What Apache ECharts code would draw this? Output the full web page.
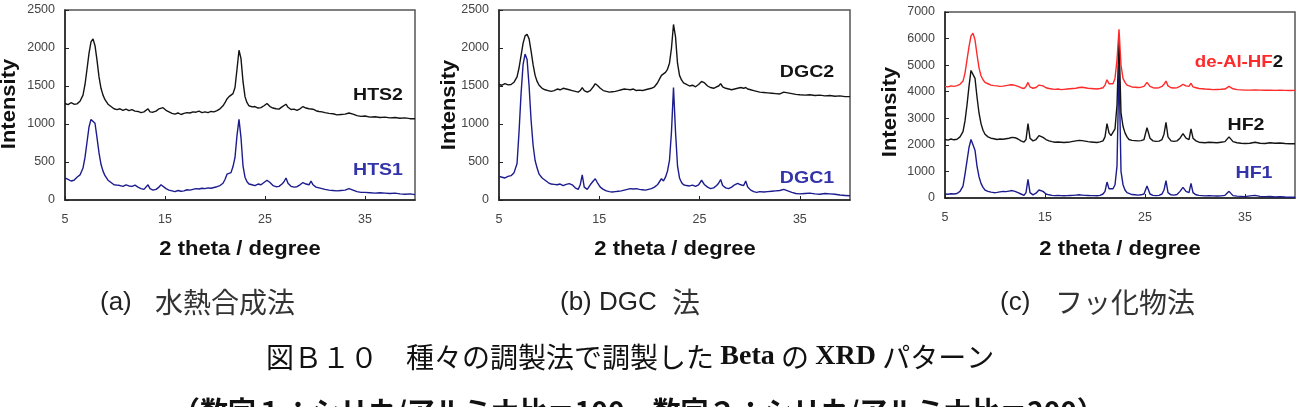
<!DOCTYPE html>
<html><head><meta charset="utf-8">
<script src="https://cdn.jsdelivr.net/npm/echarts@6/dist/echarts.min.js"></script>
<style>html,body{margin:0;padding:0;background:#fff;}#c{width:1299px;height:407px;}</style>
</head><body><div id="c"></div>
<script>
// Shared 2-theta sample positions (degrees)
const twoTheta = [
 5.0,5.3,5.6,5.9,6.2,6.5,6.8,
 7.0,7.2,7.4,7.6,7.8,8.0,8.2,8.4,8.6,8.8,9.0,
 9.3,9.6,9.9,10.2,10.5,10.8,11.1,11.4,11.7,12.0,12.3,12.6,12.9,
 13.1,13.3,13.5,13.8,14.1,14.4,14.6,14.8,
 15.1,15.4,15.7,16.0,16.3,16.6,16.9,17.2,17.5,17.8,18.1,18.4,18.7,19.0,19.3,19.6,19.9,20.2,20.5,20.8,
 21.0,21.2,21.4,21.6,21.8,22.0,22.2,22.4,22.6,22.8,23.0,23.2,23.4,
 23.7,24.0,24.3,24.6,24.9,25.2,25.5,25.8,26.1,26.4,26.7,
 26.9,27.1,27.3,27.6,27.9,28.2,28.5,28.8,29.1,29.4,29.6,29.8,
 30.1,30.4,30.7,31.0,31.4,31.8,32.2,32.6,33.0,33.4,33.8,34.2,34.6,35.0,
 35.5,36.0,36.5,37.0,37.5,38.0,38.5,39.0,39.5,40.0
];
// (a) hydrothermal
const HTS2 = [
 1270,1255,1280,1260,1265,1300,1380,
 1520,1720,1930,2080,2120,2030,1840,1620,1470,1380,1320,
 1260,1230,1200,1190,1200,1180,1195,1175,1190,1170,1165,1150,1160,
 1170,1200,1160,1155,1170,1200,1220,1215,
 1180,1160,1140,1130,1145,1125,1140,1150,1145,1160,1155,1170,1150,1160,1150,1165,1160,1175,1200,1240,
 1280,1330,1360,1340,1400,1480,1720,1970,1860,1560,1360,1280,1240,
 1225,1230,1210,1215,1240,1270,1230,1210,1200,1195,1225,
 1240,1260,1220,1190,1195,1180,1200,1230,1210,1200,1220,1195,
 1175,1165,1160,1150,1140,1135,1120,1125,1130,1145,1130,1110,1100,1105,
 1090,1095,1085,1090,1080,1085,1075,1080,1070,1070
];
const HTS1 = [
 290,270,250,260,300,330,420,
 560,760,960,1060,1070,1010,820,620,470,380,320,
 260,230,200,195,190,180,200,185,180,195,170,150,140,
 160,200,150,130,140,170,200,190,
 150,130,120,110,125,115,120,135,130,140,150,145,155,150,160,155,165,175,190,220,
 270,340,320,360,440,560,850,1060,820,450,300,240,210,
 200,190,210,200,230,260,230,190,175,180,210,
 240,290,220,180,170,175,200,230,210,200,250,200,
 170,160,150,140,130,125,120,125,130,150,130,110,100,100,
 95,90,95,90,85,90,80,75,80,70
];
// (b) DGC
const DGC2 = [
 1520,1510,1530,1515,1520,1550,1620,
 1740,1900,2060,2160,2180,2120,1960,1780,1640,1560,1510,
 1470,1450,1440,1430,1440,1460,1450,1470,1460,1450,1440,1430,1420,
 1440,1480,1440,1420,1440,1490,1530,1510,
 1470,1440,1430,1420,1425,1430,1440,1450,1460,1455,1450,1460,1440,1445,1440,1450,1460,1470,1490,1540,
 1590,1640,1660,1680,1720,1800,2000,2310,2150,1800,1640,1580,1540,
 1520,1500,1510,1490,1520,1560,1540,1500,1480,1470,1490,
 1500,1530,1490,1470,1460,1450,1460,1470,1480,1470,1480,1460,
 1450,1440,1430,1420,1415,1410,1405,1400,1395,1420,1410,1400,1390,1385,
 1380,1385,1375,1380,1370,1375,1365,1370,1360,1360
];
const DGC1 = [
 310,300,290,310,320,360,480,
 900,1400,1780,1920,1850,1500,1050,720,520,420,340,
 290,260,230,210,205,200,210,190,205,215,200,160,140,
 200,330,170,140,200,250,280,230,
 170,140,120,110,105,110,115,120,130,140,150,145,150,140,135,130,140,150,170,200,
 240,280,250,300,380,520,900,1480,900,450,290,230,200,
 190,185,195,180,200,260,200,170,150,160,190,
 220,270,190,160,150,170,200,220,200,190,250,170,
 130,110,100,110,105,110,115,120,125,140,120,100,85,80,
 85,90,80,75,85,80,75,65,60,55
];
// (c) fluoride
const deAlHF2 = [
 4200,4180,4220,4200,4230,4280,4400,
 4700,5200,5700,6100,6200,5950,5400,4900,4600,4450,4350,
 4300,4250,4230,4220,4200,4210,4230,4250,4260,4240,4200,4150,4120,
 4200,4350,4180,4130,4160,4250,4300,4220,
 4150,4120,4100,4090,4100,4080,4090,4100,4110,4120,4130,4160,4170,4150,4130,4120,4110,4100,4120,4150,
 4250,4450,4300,4250,4300,4500,5200,6350,5000,4500,4350,4250,4200,
 4180,4170,4160,4170,4200,4350,4200,4150,4140,4150,4200,
 4280,4400,4220,4150,4140,4150,4200,4280,4220,4200,4320,4180,
 4150,4120,4110,4100,4090,4080,4085,4090,4100,4200,4110,4080,4070,4060,
 4060,4070,4060,4055,4060,4050,4055,4050,4045,4050
];
const HF2 = [
 2200,2180,2220,2190,2210,2300,2500,
 2900,3500,4200,4800,4850,4500,3800,3200,2800,2550,2400,
 2300,2250,2230,2200,2220,2210,2230,2250,2280,2270,2220,2150,2100,
 2200,2800,2250,2150,2200,2350,2400,2280,
 2200,2150,2120,2100,2110,2100,2090,2100,2110,2130,2150,2170,2160,2140,2120,2110,2100,2090,2110,2150,
 2300,2800,2450,2350,2400,2600,3500,6000,3200,2700,2450,2300,2200,
 2170,2160,2150,2160,2200,2650,2250,2150,2130,2140,2200,
 2400,2850,2300,2150,2130,2150,2250,2420,2250,2200,2600,2250,
 2150,2100,2090,2080,2100,2090,2080,2100,2120,2300,2120,2080,2060,2050,
 2060,2100,2060,2050,2080,2060,2070,2050,2040,2040
];
const HF1 = [
 150,140,160,150,170,250,450,
 900,1400,1900,2200,2150,1800,1200,800,550,400,300,
 250,220,200,210,230,250,240,260,280,250,200,150,100,
 200,700,200,120,180,300,350,250,
 150,120,100,90,95,90,85,90,95,100,110,120,110,100,95,90,90,85,100,150,
 250,600,350,300,350,500,1200,5000,1000,500,300,200,150,
 130,120,110,120,150,450,150,100,90,100,150,
 300,650,200,120,110,130,250,400,250,200,550,200,
 120,100,90,80,85,80,75,80,100,250,90,70,60,50,
 80,100,60,50,60,40,50,35,30,30
];
const xTicks = [5, 15, 25, 35];
const captionTags = ['(a)', '(b) DGC', '(c)'];
const captionTexts = ['水熱合成法', '法', 'フッ化物法'];
const titleParts = ['図Ｂ１０　種々の調製法で調製した', 'Beta', 'の', 'XRD', 'パターン'];
const figNote = '（数字１：シリカ/アルミナ比＝100、数字２：シリカ/アルミナ比＝200）';

const pair = ys => twoTheta.map((x, i) => [x, ys[i]]);
const BLACK = '#141414', BLUE = '#1c1c8e', RED = '#ff2a2a', LBLUE = '#3434aa';
const SANS = '"Liberation Sans", Arial, sans-serif';
const CJK = '"Noto Sans CJK JP", sans-serif';

const grids = [
  {left: 65, top: 10, width: 350, height: 190},
  {left: 499, top: 10, width: 351, height: 190},
  {left: 945, top: 12, width: 350, height: 186}
];
const yMax = [2500, 2500, 7000], yInt = [500, 500, 1000];

const chart = echarts.init(document.getElementById('c'), null, {renderer: 'canvas'});
const option = {
  animation: false,
  backgroundColor: '#fff',
  grid: grids.map(g => Object.assign({show: true, borderColor: '#555', borderWidth: 1.5, backgroundColor: 'transparent'}, g)),
  xAxis: grids.map((g, i) => ({
    type: 'value', gridIndex: i, min: 5, max: 40,
    axisLine: {show: true, onZero: false, lineStyle: {color: '#222', width: 1.5}},
    axisTick: {show: true, inside: true, length: 4, customValues: xTicks, lineStyle: {color: '#222'}},
    axisLabel: {customValues: xTicks, margin: 13, color: '#444', fontSize: 12.5, fontFamily: SANS},
    splitLine: {show: false}
  })),
  yAxis: grids.map((g, i) => ({
    type: 'value', gridIndex: i, min: 0, max: yMax[i], interval: yInt[i],
    axisLine: {show: true, onZero: false, lineStyle: {color: '#222', width: 1.5}},
    axisTick: {show: true, inside: true, length: 4, lineStyle: {color: '#222'}},
    axisLabel: {margin: 10, color: '#444', fontSize: 12.5, fontFamily: SANS, formatter: v => String(v)},
    splitLine: {show: false}
  })),
  series: [
    {name: 'HTS1', data: pair(HTS1), xAxisIndex: 0, yAxisIndex: 0, color: BLUE},
    {name: 'HTS2', data: pair(HTS2), xAxisIndex: 0, yAxisIndex: 0, color: BLACK},
    {name: 'DGC1', data: pair(DGC1), xAxisIndex: 1, yAxisIndex: 1, color: BLUE},
    {name: 'DGC2', data: pair(DGC2), xAxisIndex: 1, yAxisIndex: 1, color: BLACK},
    {name: 'HF1', data: pair(HF1), xAxisIndex: 2, yAxisIndex: 2, color: BLUE},
    {name: 'HF2', data: pair(HF2), xAxisIndex: 2, yAxisIndex: 2, color: BLACK},
    {name: 'de-Al-HF2', data: pair(deAlHF2), xAxisIndex: 2, yAxisIndex: 2, color: RED}
  ].map(s => Object.assign({type: 'line', showSymbol: false, symbol: 'none', lineStyle: {width: 1.4, color: s.color}, itemStyle: {color: s.color}}, s)),
  graphic: []
};

const G = option.graphic;
const boldLabel = (text, x, y, color) => G.push({type: 'text', x, y, scaleX: 1.15, style: {text, fill: color, font: 'bold 17px ' + SANS, align: 'center', verticalAlign: 'middle'}});
boldLabel('HTS2', 378, 95, BLACK);
boldLabel('HTS1', 378, 170, LBLUE);
boldLabel('DGC2', 807, 72, BLACK);
boldLabel('DGC1', 807, 178, LBLUE);
boldLabel('HF2', 1246, 125, BLACK);
boldLabel('HF1', 1254, 173, LBLUE);
G.push({type: 'text', x: 1239, y: 62, scaleX: 1.1, style: {text: '{r|de-Al-HF}{k|2}', align: 'center', verticalAlign: 'middle',
  rich: {r: {fill: RED, font: 'bold 17px ' + SANS}, k: {fill: BLACK, font: 'bold 17px ' + SANS}}}});

// axis titles
[[240, 249], [675, 249], [1120, 249]].forEach(p => G.push({type: 'text', x: p[0], y: p[1], scaleX: 1.1, style: {text: '2 theta / degree', fill: '#111', font: 'bold 20px ' + SANS, align: 'center', verticalAlign: 'middle'}}));
[[9, 104], [449, 105], [890, 112]].forEach(p => G.push({type: 'text', x: p[0], y: p[1], rotation: Math.PI / 2, scaleX: 1.1, style: {text: 'Intensity', fill: '#111', font: 'bold 20px ' + SANS, align: 'center', verticalAlign: 'middle'}}));

// captions
[[100, 155], [560, 672], [1000, 1055]].forEach((p, i) => {
  G.push({type: 'text', x: p[0], y: 303, style: {text: captionTags[i], fill: '#222', font: '26px ' + SANS, align: 'left', verticalAlign: 'middle'}});
  G.push({type: 'text', x: p[1], y: 302, style: {text: captionTexts[i], fill: '#333', font: '28px ' + CJK, align: 'left', verticalAlign: 'middle'}});
});
G.push({type: 'text', x: 266, y: 357, style: {
  text: '{j|' + titleParts[0] + '} {l|' + titleParts[1] + '} {j|' + titleParts[2] + '} {l|' + titleParts[3] + '} {j|' + titleParts[4] + '}',
  fill: '#111', font: '28px ' + CJK, align: 'left', verticalAlign: 'middle',
  rich: {j: {fill: '#111', font: '28px ' + CJK}, l: {fill: '#111', font: 'bold 28px "Liberation Serif", serif'}}}});
G.push({type: 'text', x: 172, y: 411, style: {text: figNote, fill: '#111', font: 'bold 28px ' + CJK, align: 'left', verticalAlign: 'middle'}});

chart.setOption(option);
</script></body></html>
